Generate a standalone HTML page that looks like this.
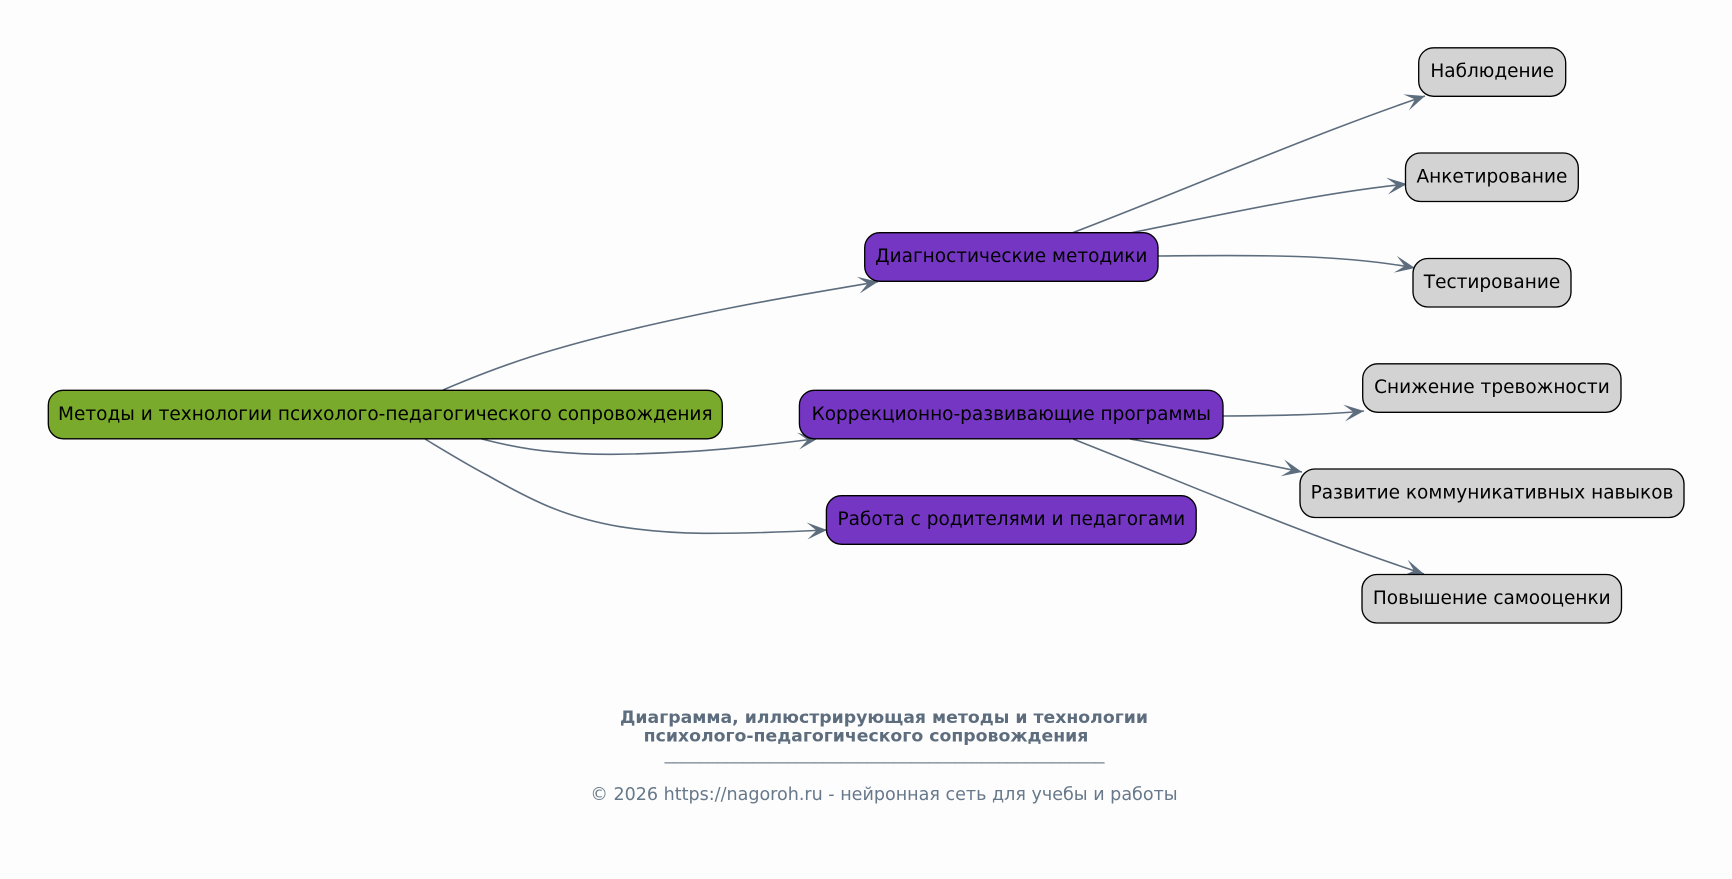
<!DOCTYPE html>
<html lang="ru">
<head>
<meta charset="utf-8">
<title>Диаграмма</title>
<style>
html,body{margin:0;padding:0;background:#fdfdfd;width:1732px;height:879px;overflow:hidden}
svg{display:block}
text{font-family:"DejaVu Sans","Liberation Sans",sans-serif}
.n{font-size:18.5px;fill:#000;text-anchor:middle}
.b{stroke:#000;stroke-width:1.33}
.e{fill:none;stroke:#5d6d7e;stroke-width:1.6;marker-end:url(#v)}
.f{fill:#5d6d7e;text-anchor:middle}
</style>
</head>
<body>
<svg width="1732" height="879" viewBox="0 0 1732 879" xmlns="http://www.w3.org/2000/svg">
<defs>
<marker id="v" markerUnits="userSpaceOnUse" markerWidth="24" markerHeight="20" refX="21" refY="9" orient="auto">
<path d="M21,9 L1,0.500 L10.500,9 L1,17.500 Z" fill="#5d6d7e"/>
</marker>
</defs>
<rect width="1732" height="879" fill="#fdfdfd"/>

<path class="e" d="M443,390 C478,375 515,361 553,350 C600,336 660,322 730,308 C780,298 830,290 878,281.700"/>
<path class="e" d="M480,438.500 C505,445 530,450 553,451.700 C573,453.500 593,454.500 613,454.300 C640,454 665,453 687,451.700 C730,449 775,444 818,438.500"/>
<path class="e" d="M425,439 C445,451 466,464 487,475 C508,487 530,499 553,508.300 C575,517 598,523 620,526.700 C648,531 675,533 703,533.300 C745,533.600 785,532 827,530"/>
<path class="e" d="M1072,233 C1185,190 1305,137 1425,96"/>
<path class="e" d="M1130,233 C1225,214 1320,193 1407,184"/>
<path class="e" d="M1158,256 C1250,255 1340,254 1415,268"/>
<path class="e" d="M1223,416 C1275,415.500 1325,415 1364,411"/>
<path class="e" d="M1130,439 C1187,449 1245,460 1302,472"/>
<path class="e" d="M1073,439 C1190,485 1305,535 1424,574"/>

<rect class="b" x="48.300" y="390.300" width="674" height="48.500" rx="15" fill="#79aa2b"/>
<text class="n" x="385.300" y="420">Методы и технологии психолого-педагогического сопровождения</text>

<rect class="b" x="864.700" y="232.700" width="293.300" height="48.600" rx="15" fill="#7536c4"/>
<text class="n" x="1011.300" y="262">Диагностические методики</text>

<rect class="b" x="799.400" y="390.300" width="423.600" height="48.500" rx="15" fill="#7536c4"/>
<text class="n" x="1011.300" y="420">Коррекционно-развивающие программы</text>

<rect class="b" x="826.400" y="495.700" width="369.800" height="48.600" rx="15" fill="#7536c4"/>
<text class="n" x="1011.300" y="525">Работа с родителями и педагогами</text>

<rect class="b" x="1418.700" y="47.800" width="147" height="48.500" rx="15" fill="#d3d3d3"/>
<text class="n" x="1492.200" y="77">Наблюдение</text>

<rect class="b" x="1405.500" y="153" width="172.800" height="48.500" rx="15" fill="#d3d3d3"/>
<text class="n" x="1491.900" y="182.500">Анкетирование</text>

<rect class="b" x="1413" y="258.500" width="158" height="48.500" rx="15" fill="#d3d3d3"/>
<text class="n" x="1492" y="288">Тестирование</text>

<rect class="b" x="1362.700" y="363.800" width="258.300" height="48.500" rx="15" fill="#d3d3d3"/>
<text class="n" x="1491.900" y="393">Снижение тревожности</text>

<rect class="b" x="1300" y="469" width="384" height="48.500" rx="15" fill="#d3d3d3"/>
<text class="n" x="1492" y="498.500">Развитие коммуникативных навыков</text>

<rect class="b" x="1362" y="574.500" width="259.500" height="48.500" rx="15" fill="#d3d3d3"/>
<text class="n" x="1491.800" y="604">Повышение самооценки</text>

<text class="f" x="884" y="723" font-size="17.300" font-weight="bold">Диаграмма, иллюстрирующая методы и технологии</text>
<text class="f" x="866" y="741.500" font-size="17.300" font-weight="bold">психолого-педагогического сопровождения</text>
<text class="f" x="884.500" y="759.500" font-size="17.600" fill-opacity="0.85">__________________________________________________</text>
<text class="f" x="884" y="800" font-size="17.550" style="fill:#67788a">© 2026 https://nagoroh.ru - нейронная сеть для учебы и работы</text>
</svg>
</body>
</html>
